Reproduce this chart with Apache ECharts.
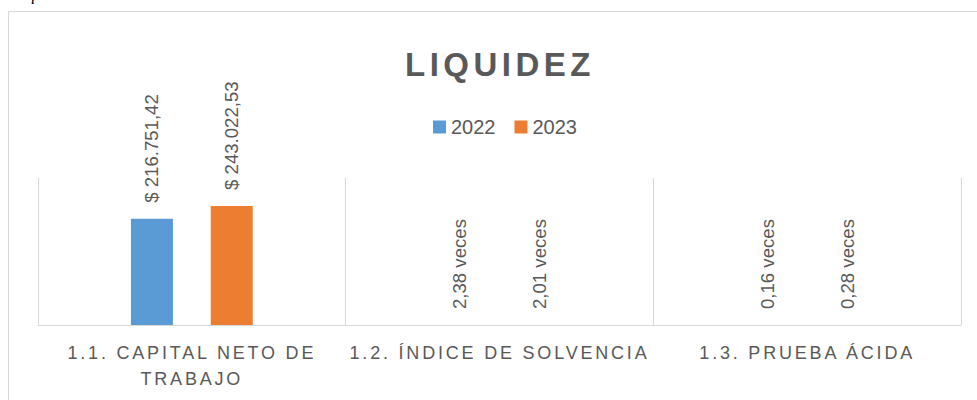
<!DOCTYPE html>
<html>
<head>
<meta charset="utf-8">
<title>Liquidez</title>
<script src="https://cdn.jsdelivr.net/npm/echarts@6/dist/echarts.min.js"></script>
<style>
  html, body {
    margin: 0;
    padding: 0;
    background: #fff;
  }
  #main {
    width: 977px;
    height: 400px;
  }
  /* espaciado de letras como en Excel (titulo y categorias) */
  #main text[style*="33px"] {
    letter-spacing: 4.5px;
  }
  #main text[style*="18px"] {
    letter-spacing: 2.8px;
  }
</style>
</head>
<body>
<div id="main"></div>
<script>
  var categories = ['1.1. CAPITAL NETO DE\nTRABAJO', '1.2. ÍNDICE DE SOLVENCIA', '1.3. PRUEBA ÁCIDA']
  var seriesNames = ['2022', '2023']
  var values2022 = [216751.42, 2.38, 0.16]
  var values2023 = [243022.53, 2.01, 0.28]
  var labels2022 = ['$ 216.751,42', '2,38 veces', '0,16 veces']
  var labels2023 = ['$ 243.022,53', '2,01 veces', '0,28 veces']

  var textColor = '#595959'
  var lineColor = '#d9d9d9'

  function barSeries(name, values, labels, color) {
    return {
      name: name,
      type: 'bar',
      data: values,
      barWidth: 42,
      barGap: '90%',
      itemStyle: { color: color },
      label: {
        show: true,
        position: 'top',
        distance: 16,
        rotate: 90,
        align: 'left',
        verticalAlign: 'middle',
        color: textColor,
        fontSize: 18.6,
        fontFamily: 'Liberation Sans',
        formatter: function (p) {
          return labels[p.dataIndex]
        }
      }
    }
  }

  var chart = echarts.init(document.getElementById('main'), null, { renderer: 'svg' })
  chart.setOption({
    animation: false,
    backgroundColor: '#fff',
    title: {
      text: 'LIQUIDEZ',
      left: 400,
      top: 43,
      textStyle: {
        fontSize: 33,
        fontWeight: 'bold',
        color: textColor,
        fontFamily: 'Liberation Sans'
      }
    },
    legend: {
      data: seriesNames,
      left: 428,
      top: 112,
      icon: 'rect',
      itemWidth: 13,
      itemHeight: 13,
      itemGap: 19,
      textStyle: {
        fontSize: 20,
        color: textColor,
        fontFamily: 'Liberation Sans'
      }
    },
    graphic: [
      {
        type: 'rect',
        shape: { x: 8.5, y: 11.5, width: 1000, height: 400 },
        style: { fill: 'none', stroke: lineColor, lineWidth: 1 },
        silent: true
      },
      {
        type: 'text',
        left: 14,
        top: -14,
        style: {
          text: 'Liquidez',
          fontSize: 16,
          fontStyle: 'italic',
          fontFamily: 'Liberation Serif',
          fill: '#000'
        }
      }
    ],
    grid: {
      left: 38,
      right: 16,
      top: 178,
      bottom: 75
    },
    xAxis: {
      type: 'category',
      data: categories,
      axisLine: { lineStyle: { color: lineColor, width: 1 } },
      axisTick: { show: false },
      splitLine: { show: true, lineStyle: { color: lineColor, width: 1 } },
      axisLabel: {
        color: textColor,
        fontSize: 18,
        fontFamily: 'Liberation Sans',
        lineHeight: 26,
        margin: 15,
        interval: 0
      }
    },
    yAxis: {
      type: 'value',
      min: 0,
      max: 300000,
      show: false
    },
    series: [
      barSeries(seriesNames[0], values2022, labels2022, '#5B9BD5'),
      barSeries(seriesNames[1], values2023, labels2023, '#ED7D31')
    ]
  })
</script>
</body>
</html>
